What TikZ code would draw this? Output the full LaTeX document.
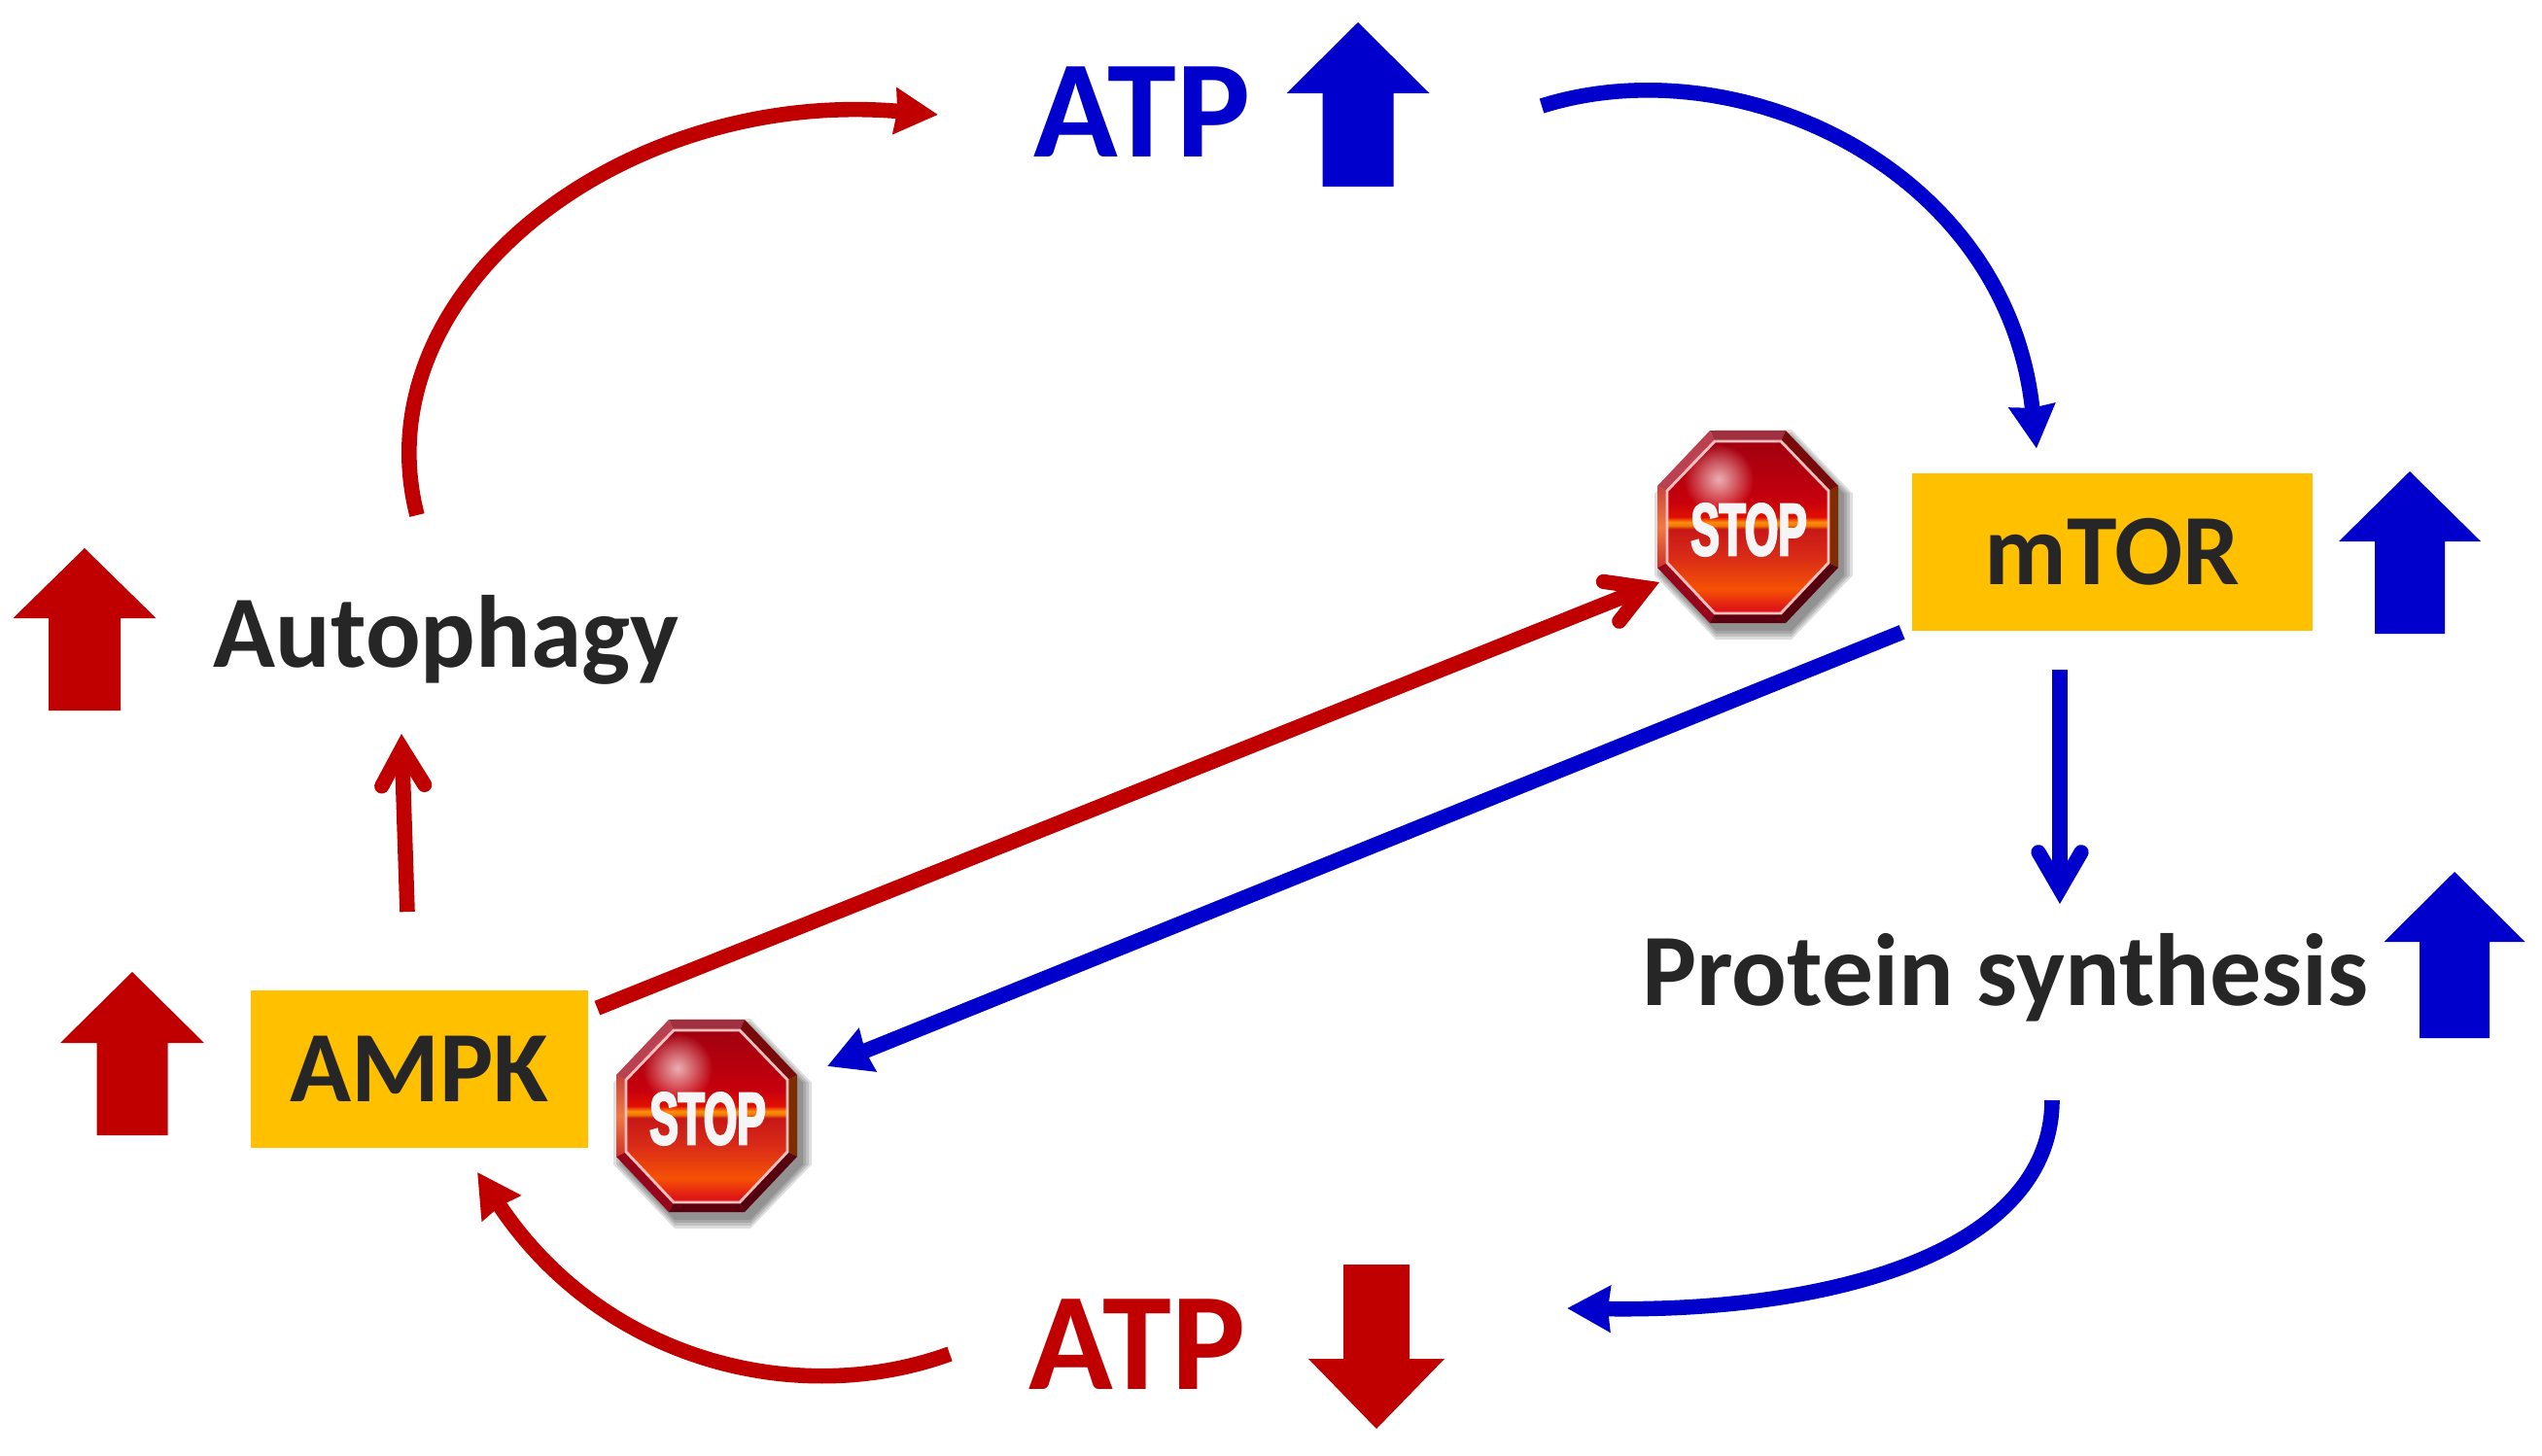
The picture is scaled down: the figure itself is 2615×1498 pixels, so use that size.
\documentclass[tikz,border=0pt]{standalone}
\usepackage{fontspec}
\usetikzlibrary{arrows.meta,fadings}
\setmainfont{Carlito}
\newfontfamily\stopfont{Liberation Sans}[UprightFont={* Bold},FakeStretch=0.58,FakeBold=3]
\definecolor{rd}{HTML}{C00000}
\definecolor{bl}{HTML}{0000CC}
\definecolor{bx}{HTML}{FFC000}
\definecolor{ink}{HTML}{262626}
\pgfdeclarearrow{
 name=RoundBarb,
 setup code={\pgfarrowssettipend{0pt}\pgfarrowssetlineend{-10pt}\pgfarrowssetvisualbackend{-27pt}\pgfarrowssetbackend{-30pt}},
 drawing code={\pgfsetdash{}{0pt}\pgfsetlinewidth{7.6pt}\pgfsetroundcap\pgfsetmiterjoin
  \pgfpathmoveto{\pgfqpoint{-26.6pt}{11pt}}\pgfpathlineto{\pgfqpoint{-7.6pt}{0pt}}\pgfpathlineto{\pgfqpoint{-26.6pt}{-11pt}}\pgfusepathqstroke}
}
\tikzfading[name=softball,inner color=transparent!5,outer color=transparent!100]
\pgfdeclareverticalshading{stopgrad}{100bp}{
 rgb(0bp)=(0.88,0.09,0.09);
 rgb(26.5bp)=(0.88,0.09,0.09);
 rgb(32bp)=(0.96,0.32,0.02);
 rgb(41.5bp)=(0.85,0.17,0.09);
 rgb(49.5bp)=(0.78,0.09,0.09);
 rgb(50.5bp)=(0.94,0.48,0.0);
 rgb(51.5bp)=(1.0,0.55,0.06);
 rgb(53bp)=(0.88,0.06,0.0);
 rgb(57.5bp)=(0.78,0.0,0.05);
 rgb(75bp)=(0.63,0.0,0.06);
 rgb(100bp)=(0.63,0.0,0.06)}
\tikzset{
 curveR/.style={draw=rd,line width=7.8pt,-{Stealth[length=22pt,width=23pt,inset=1pt]}},
 curveB/.style={draw=bl,line width=7.8pt,-{Stealth[length=22pt,width=23pt,inset=1pt]}},
 barbR/.style={draw=rd,line width=7.8pt,-RoundBarb},
 barbB/.style={draw=bl,line width=7.8pt,-RoundBarb},
 barebox/.style={fill=bx,text=ink,font=\fontsize{52}{52}\selectfont\bfseries,inner sep=0pt,minimum height=81pt},
 bigtxt/.style={font=\fontsize{71.5}{72}\selectfont\bfseries,inner sep=0pt,anchor=base},
 midtxt/.style={font=\fontsize{52.8}{53}\selectfont\bfseries,text=ink,inner sep=0pt,anchor=base},
 stoptxt/.style={font=\fontsize{38}{38}\stopfont,text=white!96!black,inner sep=0pt}
}
% block arrow: colour, tip x, tip y, direction (1 = points up, -1 = points down), head half width, stem half width, head length, full length
\newcommand{\blockarrow}[8]{\fill[#1] (#2,#3) -- ++(#5,#4*#7) -- ++(-#5+#6,0) -- ++(0,#4*#8-#4*#7) -- ++(-2*#6,0) -- ++(0,-#4*#8+#4*#7) -- ++(-#5+#6,0) -- cycle;}
\newcommand{\stopsign}[3]{%
 \begin{scope}[shift={(#2,#3)}]
  \foreach \g in {9,6,3,0}{
   \fill[black,opacity=.13] (-39+6,-99+8-\g) -- (39+6,-99+8-\g) -- (93+6+\g,-42+8) -- (93+6+\g,42+8) -- (39+6,99+8+\g) -- (-39+6,99+8+\g) -- (-93+6-\g,42+8) -- (-93+6-\g,-42+8) -- cycle;
  }
  \fill[color={rgb,255:red,158;green,48;blue,64}] (-39,-99) -- (39,-99) -- (34,-88) -- (-34,-88) -- cycle;
  \fill[color={rgb,255:red,120;green,10;blue,10}] (39,-99) -- (93,-42) -- (83,-37) -- (34,-88) -- cycle;
  \fill[color={rgb,255:red,125;green,45;blue,0}] (93,-42) -- (93,42) -- (83,37) -- (83,-37) -- cycle;
  \fill[color={rgb,255:red,85;green,0;blue,15}] (93,42) -- (39,99) -- (34,89) -- (83,37) -- cycle;
  \fill[color={rgb,255:red,90;green,0;blue,15}] (39,99) -- (-39,99) -- (-34,89) -- (34,89) -- cycle;
  \fill[color={rgb,255:red,150;green,5;blue,25}] (-39,99) -- (-93,42) -- (-83,37) -- (-34,89) -- cycle;
  \shade[top color={rgb,255:red,200;green,70;blue,60},bottom color={rgb,255:red,205;green,50;blue,40},middle color={rgb,255:red,240;green,120;blue,70}] (-93,42) -- (-93,-42) -- (-83,-37) -- (-83,37) -- cycle;
  \fill[color={rgb,255:red,185;green,65;blue,80}] (-93,-42) -- (-39,-99) -- (-34,-88) -- (-83,-37) -- cycle;
  \shade[shading=stopgrad] (-34,-88) -- (34,-88) -- (83,-37) -- (83,37) -- (34,89) -- (-34,89) -- (-83,37) -- (-83,-37) -- cycle;
  \draw[white!75!red,line width=1.4pt] (-34,-88) -- (34,-88) -- (83,-37) -- (83,37) -- (34,89) -- (-34,89) -- (-83,37) -- (-83,-37) -- cycle;
  \fill[white!85!pink,fill opacity=.75,path fading=softball] (-30,-49) circle (36);
  \node[stoptxt] (#1) at (1,3) {STOP};
 \end{scope}}
\begin{document}
\begin{tikzpicture}[x=0.5pt,y=-0.5pt]
\useasboundingbox (0,0) rectangle (2615,1498);
% nodes
\node[bigtxt,text=bl] (atpB) at (1175,162) {ATP};
\node[bigtxt,text=rd] (atpR) at (1170,1429) {ATP};
\node[midtxt] (auto) at (459,686) {Autophagy};
\node[midtxt] (prot) at (2063,1034) {Protein synthesis};
\node[barebox,minimum width=173.5pt] (ampk) at (431.5,1099.5) {AMPK};
\node[barebox,minimum width=206pt] (mtor) at (2173,568) {mTOR};
\stopsign{stopA}{1798}{542}
\stopsign{stopB}{727}{1148}
% block arrows
\blockarrow{bl}{1397}{23}{1}{73.5}{36.5}{73}{169}
\blockarrow{bl}{2479}{485}{1}{73}{36}{72}{167}
\blockarrow{bl}{2525}{897}{1}{72.5}{36}{72}{171}
\blockarrow{rd}{87}{564}{1}{73.5}{37}{72}{167}
\blockarrow{rd}{136}{1000}{1}{74}{36.5}{73}{168}
\blockarrow{rd}{1416}{1470}{-1}{70}{34}{72}{169}
% connectors
\draw[curveR] ([shift={(-30,-156)}]auto.base) .. controls (370,300) and (640,90) .. ([shift={(-210,-44)}]atpB.base);
\draw[curveB] ([shift={(411,-53)}]atpB.base) .. controls (1790,45) and (2065,175) .. ([shift={(-78,-25)}]mtor.north);
\draw[curveB] ([shift={(48,98)}]prot.base) .. controls (2110,1290) and (1880,1350) .. ([shift={(442,-83)}]atpR.base);
\draw[curveR] ([shift={(-193,-36)}]atpR.base) .. controls (820,1450) and (620,1400) .. ([shift={(59.5,25)}]ampk.south);
\draw[barbR] ([shift={(-12.5,-80)}]ampk.north) -- ([shift={(-46,69)}]auto.base);
\draw[barbB] ([shift={(-54,40)}]mtor.south) -- ([shift={(56,-104)}]prot.base);
\draw[barbR] ([shift={(9,19)}]ampk.north east) -- ([shift={(-92,54)}]stopA.center);
\draw[curveB] ([shift={(-10,1)}]mtor.south west) -- ([shift={(123,-54)}]stopB.center);
\end{tikzpicture}
\end{document}
